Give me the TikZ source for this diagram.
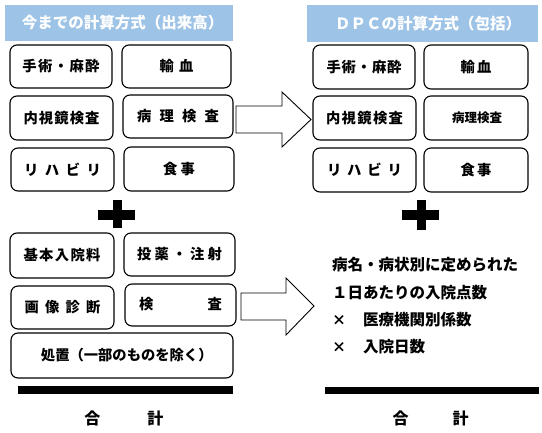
\documentclass[tikz,border=0pt]{standalone}
\usepackage{fontspec}
\setmainfont{Noto Sans CJK JP}
\definecolor{hdrblue}{RGB}{157,195,230}
\newcommand\spreadtext[2]{\makebox[#1][s]{\sprdfirst#2\relax}}
\def\sprdfirst#1{\ifx#1\relax\else#1\expandafter\sprdnext\fi}
\def\sprdnext#1{\ifx#1\relax\else\hfil#1\expandafter\sprdnext\fi}
\tikzset{
  itembox/.style={draw, rounded corners=7pt, line width=1.1pt, inner sep=0pt,
    font=\fontsize{14.3}{16}\selectfont\bfseries},
  hdrbox/.style={fill=hdrblue, draw=none, inner sep=0pt, text=white,
    font=\fontsize{15.5}{18}\selectfont\bfseries},
  blockarrow/.style={draw, fill=white, line width=0.9pt, line join=miter},
  plusbar/.style={fill=black, draw=none},
  sumbar/.style={fill=black, draw=none},
  bodytext/.style={inner sep=0pt, anchor=west, font=\fontsize{15.5}{18}\selectfont\bfseries},
  sumtext/.style={inner sep=0pt, font=\fontsize{16}{18}\selectfont\bfseries}
}
\begin{document}
\begin{tikzpicture}[x=1pt,y=-1pt]
\useasboundingbox (0,0) rectangle (542,432);
% headers
\node[hdrbox, minimum width=228pt, minimum height=36pt] (hl) at (119,23) {\spreadtext{194pt}{今までの計算方式（出来高）}};
\node[hdrbox, minimum width=231pt, minimum height=37pt] (hr) at (422.5,23.5) {\spreadtext{175pt}{ＤＰＣの計算方式（包括）}};
% left upper boxes
\node[itembox, minimum width=102pt, minimum height=43pt] (l1) at (61,66.5) {\spreadtext{77pt}{手術・麻酔}};
\node[itembox, minimum width=109pt, minimum height=43pt] (l2) at (176.5,66.5) {\spreadtext{34pt}{輸血}};
\node[itembox, minimum width=103pt, minimum height=44pt] (l3) at (61.5,118) {\spreadtext{76pt}{内視鏡検査}};
\node[itembox, minimum width=110pt, minimum height=43pt] (l4) at (178,116.5) {\spreadtext{82pt}{病理検査}};
\node[itembox, minimum width=103pt, minimum height=43pt] (l5) at (62.5,169.5) {\spreadtext{77pt}{リハビリ}};
\node[itembox, minimum width=110pt, minimum height=44pt] (l6) at (179,169) {\spreadtext{32pt}{食事}};
% left lower boxes
\node[itembox, minimum width=104pt, minimum height=45pt] (l7) at (62,255.5) {\spreadtext{77pt}{基本入院料}};
\node[itembox, minimum width=111pt, minimum height=43pt] (l8) at (179.5,254.5) {\spreadtext{85pt}{投薬・注射}};
\node[itembox, minimum width=103pt, minimum height=43pt] (l9) at (62.5,307.5) {\spreadtext{76pt}{画像診断}};
\node[itembox, minimum width=111pt, minimum height=42pt] (l10) at (180.5,305) {\raisebox{3pt}{\spreadtext{83pt}{検査}}};
\node[itembox, minimum width=222pt, minimum height=45pt] (l11) at (122,355.5) {\spreadtext{162pt}{処置（一部のものを除く）}};
% right boxes
\node[itembox, minimum width=102pt, minimum height=44pt] (r1) at (364,67) {\spreadtext{75pt}{手術・麻酔}};
\node[itembox, minimum width=104pt, minimum height=44pt] (r2) at (476,67) {\spreadtext{31pt}{輸血}};
\node[itembox, minimum width=103pt, minimum height=44pt] (r3) at (364.5,118) {\spreadtext{77pt}{内視鏡検査}};
\node[itembox, minimum width=104pt, minimum height=44pt, font=\fontsize{12.5}{14}\selectfont\bfseries] (r4) at (476,118) {\spreadtext{48pt}{病理検査}};
\node[itembox, minimum width=103pt, minimum height=44pt] (r5) at (364.5,170) {\spreadtext{75pt}{リハビリ}};
\node[itembox, minimum width=104pt, minimum height=44pt] (r6) at (476,170) {\spreadtext{31pt}{食事}};
% block arrows
\draw[blockarrow] (236,106) -- (282,106) -- (282,92) -- (311,119.5) -- (282,147) -- (282,133) -- (236,133) -- cycle;
\draw[blockarrow] (241,293) -- (286,293) -- (286,278) -- (314,306) -- (286,335) -- (286,320) -- (241,320) -- cycle;
% plus signs
\fill[plusbar] (98,210) rectangle (135,219.5);
\fill[plusbar] (113,200) rectangle (122,228);
\fill[plusbar] (402,210) rectangle (439,220);
\fill[plusbar] (416.5,200) rectangle (426,230);
% right formula text
\node[bodytext] (t1) at (332,265) {病名・病状別に定められた};
\node[bodytext] (t2) at (332,293) {１日あたりの入院点数};
\node[inner sep=0pt, font=\fontsize{14}{16}\selectfont\bfseries] (x1) at (339,320) {×};
\node[bodytext] (t3) at (363,320) {医療機関別係数};
\node[inner sep=0pt, font=\fontsize{14}{16}\selectfont\bfseries] (x2) at (339,347) {×};
\node[bodytext] (t4) at (363,347) {入院日数};
% sum bars
\fill[sumbar] (18,386) rectangle (233,394);
\fill[sumbar] (325,386.5) rectangle (539,394);
\node[sumtext] (sl) at (124,418) {\spreadtext{79pt}{合計}};
\node[sumtext] (sr) at (430.5,418) {\spreadtext{76pt}{合計}};
\end{tikzpicture}
\end{document}
